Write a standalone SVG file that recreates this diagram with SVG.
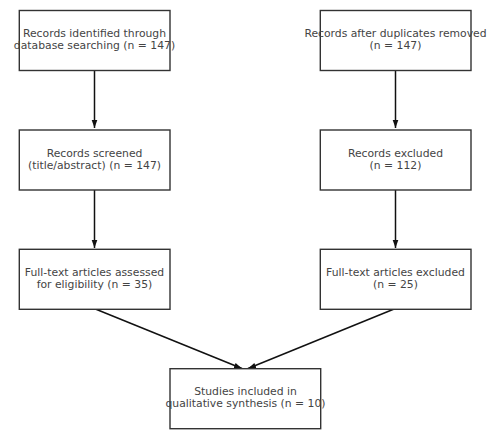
<svg xmlns="http://www.w3.org/2000/svg" width="498" height="438" viewBox="0 0 498 438">
<defs>
<style>
.box{fill:#fff;stroke:#333;stroke-width:1.4}
.t{font-family:"DejaVu Sans",sans-serif;font-size:10.8px;fill:#444;text-anchor:middle}
.c{stroke:#111;stroke-width:1.5;fill:none;marker-end:url(#ah)}
</style>
<marker id="ah" markerWidth="8" markerHeight="8" viewBox="0 0 8 8" refX="8" refY="4" orient="auto" markerUnits="userSpaceOnUse">
<path d="M0,1.2 L8,4 L0,6.8 Z" fill="#111"/>
</marker>
</defs>
<rect width="498" height="438" fill="#fff"/>
<g id="connectors">
<line class="c" x1="94.5" y1="70.5" x2="94.5" y2="128"/>
<line class="c" x1="94.5" y1="190" x2="94.5" y2="248"/>
<line class="c" x1="395.5" y1="70.5" x2="395.5" y2="128"/>
<line class="c" x1="395.5" y1="190" x2="395.5" y2="248"/>
<line class="c" x1="96" y1="309.3" x2="242" y2="368.5"/>
<line class="c" x1="393.5" y1="309.3" x2="248" y2="368.5"/>
</g>
<g id="n1"><rect class="box" x="19.3" y="10.5" width="150.7" height="60"/>
<text class="t" x="94.5" y="37">Records identified through</text>
<text class="t" x="94.5" y="49">database searching (n = 147)</text></g>
<g id="n2"><rect class="box" x="19.3" y="130" width="150.7" height="60"/>
<text class="t" x="94.5" y="156.5">Records screened</text>
<text class="t" x="94.5" y="168.5">(title/abstract) (n = 147)</text></g>
<g id="n3"><rect class="box" x="19.3" y="249.3" width="150.7" height="60"/>
<text class="t" x="94.5" y="275.5">Full-text articles assessed</text>
<text class="t" x="94.5" y="287.5">for eligibility (n = 35)</text></g>
<g id="n4"><rect class="box" x="320.3" y="10.5" width="150.7" height="60"/>
<text class="t" x="395.5" y="37">Records after duplicates removed</text>
<text class="t" x="395.5" y="49">(n = 147)</text></g>
<g id="n5"><rect class="box" x="320.3" y="130" width="150.7" height="60"/>
<text class="t" x="395.5" y="156.5">Records excluded</text>
<text class="t" x="395.5" y="168.5">(n = 112)</text></g>
<g id="n6"><rect class="box" x="320.3" y="249.3" width="150.7" height="60"/>
<text class="t" x="395.5" y="275.5">Full-text articles excluded</text>
<text class="t" x="395.5" y="287.5">(n = 25)</text></g>
<g id="n7"><rect class="box" x="170" y="368.7" width="150.7" height="60"/>
<text class="t" x="245.5" y="395">Studies included in</text>
<text class="t" x="245.5" y="407">qualitative synthesis (n = 10)</text></g>
</svg>
